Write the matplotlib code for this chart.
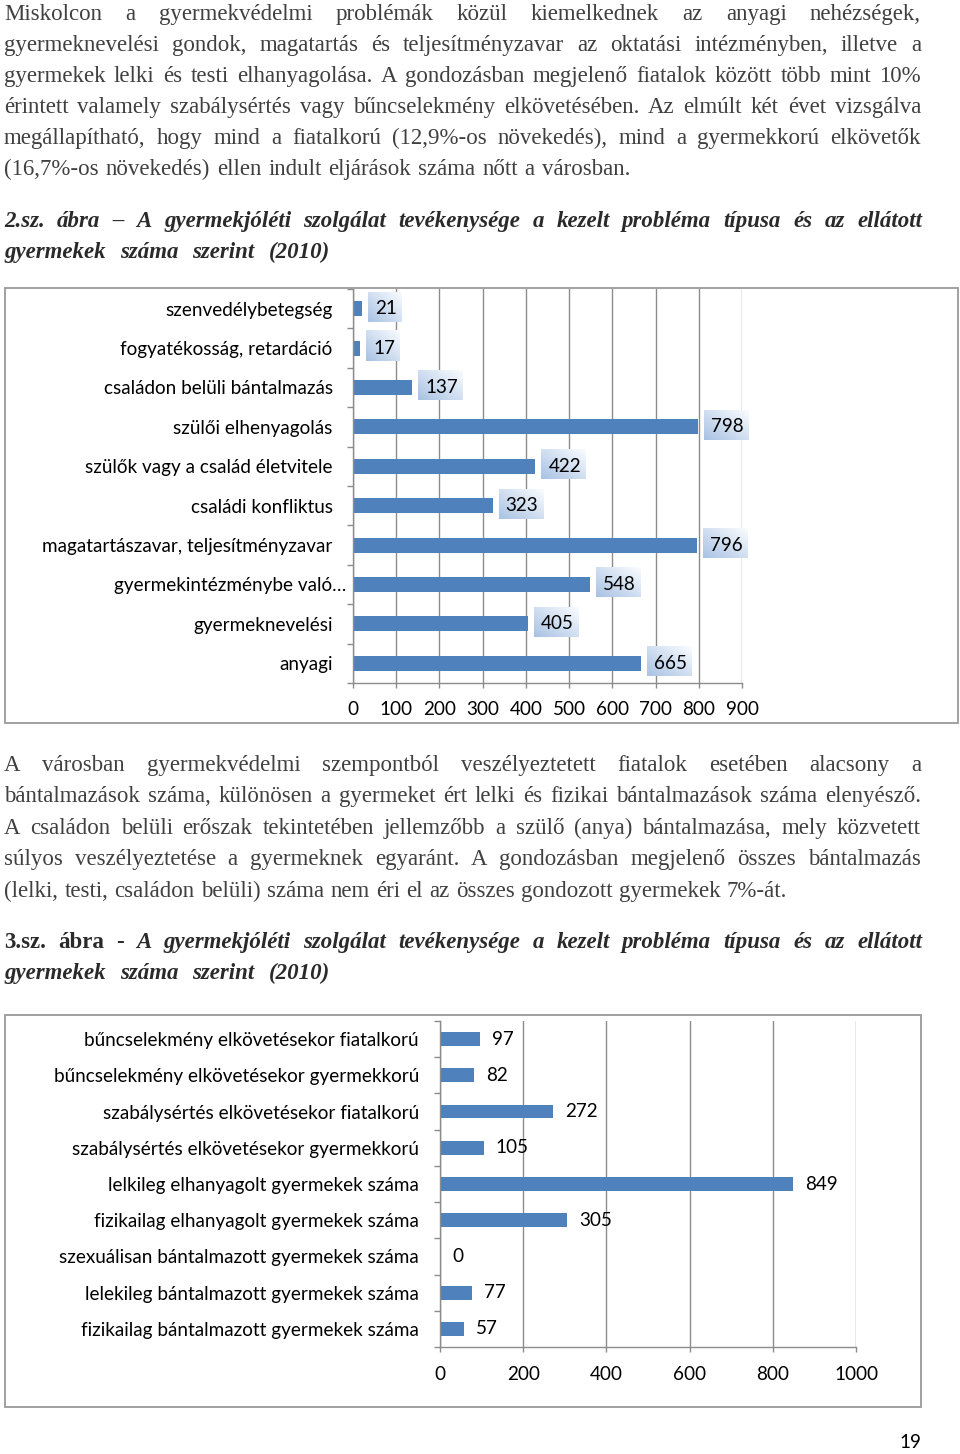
import matplotlib
matplotlib.use('Agg')
import matplotlib.pyplot as plt
import numpy as np
from matplotlib.patches import Rectangle
from matplotlib.transforms import ScaledTranslation

# ---------------- data ----------------
cats1 = ["szenvedélybetegség", "fogyatékosság, retardáció", "családon belüli bántalmazás",
         "szülői elhenyagolás", "szülők vagy a család életvitele", "családi konfliktus",
         "magatartászavar, teljesítményzavar", "gyermekintézménybe való…",
         "gyermeknevelési", "anyagi"]
vals1 = [21, 17, 137, 798, 422, 323, 796, 548, 405, 665]
ticks1 = [0, 100, 200, 300, 400, 500, 600, 700, 800, 900]

cats2 = ["bűncselekmény elkövetésekor fiatalkorú", "bűncselekmény elkövetésekor gyermekkorú",
         "szabálysértés elkövetésekor fiatalkorú", "szabálysértés elkövetésekor gyermekkorú",
         "lelkileg elhanyagolt gyermekek száma", "fizikailag elhanyagolt gyermekek száma",
         "szexuálisan bántalmazott gyermekek száma", "lelekileg bántalmazott gyermekek száma",
         "fizikailag bántalmazott gyermekek száma"]
vals2 = [97, 82, 272, 105, 849, 305, 0, 77, 57]
ticks2 = [0, 200, 400, 600, 800, 1000]

para1 = ["Miskolcon a gyermekvédelmi problémák közül kiemelkednek az anyagi nehézségek,",
         "gyermeknevelési gondok, magatartás és teljesítményzavar az oktatási intézményben, illetve a",
         "gyermekek lelki és testi elhanyagolása. A gondozásban megjelenő fiatalok között több mint 10%",
         "érintett valamely szabálysértés vagy bűncselekmény elkövetésében. Az elmúlt két évet vizsgálva",
         "megállapítható, hogy mind a fiatalkorú (12,9%-os növekedés), mind a gyermekkorú elkövetők",
         "(16,7%-os növekedés) ellen indult eljárások száma nőtt a városban."]
title1 = ["2.sz. ábra – A gyermekjóléti szolgálat tevékenysége a kezelt probléma típusa és az ellátott",
          "gyermekek száma szerint (2010)"]
para2 = ["A városban gyermekvédelmi szempontból veszélyeztetett fiatalok esetében alacsony a",
         "bántalmazások száma, különösen a gyermeket ért lelki és fizikai bántalmazások száma elenyésző.",
         "A családon belüli erőszak tekintetében jellemzőbb a szülő (anya) bántalmazása, mely közvetett",
         "súlyos veszélyeztetése a gyermeknek egyaránt. A gondozásban megjelenő összes bántalmazás",
         "(lelki, testi, családon belüli) száma nem éri el az összes gondozott gyermekek 7%-át."]
title2_prefix = "3.sz. ábra -"
title2 = ["A gyermekjóléti szolgálat tevékenysége a kezelt probléma típusa és az ellátott",
          "gyermekek száma szerint (2010)"]
page_number = "19"

# ---------------- layout ----------------
W, H, DPI = 960, 1454, 100
PX2PT = 72.0 / DPI
plt.rcParams['font.family'] = ['Lato', 'DejaVu Sans']

fig = plt.figure(figsize=(W / DPI, H / DPI), dpi=DPI)
fig.patch.set_facecolor('white')
renderer = fig.canvas.get_renderer()

BAR = '#4F81BD'
GRID = '#8c8c8c'
BODY = '#404040'
TITLE = '#2a2a2a'
SERIF = ['Liberation Serif', 'DejaVu Serif']
CFS = 13.6


def justify(words, baseline_y, x0, x1, size, color):
    texts = []
    for w, wt, st in words:
        t = fig.text(0, 1 - baseline_y / H, w, fontsize=size, family=SERIF,
                     weight=wt, style=st, color=color, va='baseline', ha='left')
        texts.append(t)
    widths = [t.get_window_extent(renderer).width for t in texts]
    if len(texts) > 1:
        gap = (x1 - x0 - sum(widths)) / (len(texts) - 1)
        gap = max(gap, 3)
    else:
        gap = 0
    x = x0
    for t, wd in zip(texts, widths):
        t.set_x(x / W)
        x += wd + gap


def plain(line, wt='normal', st='normal'):
    return [(w, wt, st) for w in line.split()]


FS = 16.5
# paragraph 1
base1 = [20, 51, 82, 113, 144, 175]
ends1 = [921, 921, 921, 921, 921, 630]
for line, yb, xe in zip(para1, base1, ends1):
    justify(plain(line), yb, 4, xe, FS, BODY)
# title 1
justify(plain(title1[0], 'bold', 'italic'), 227, 4, 922, FS, TITLE)
justify(plain(title1[1], 'bold', 'italic'), 258, 4, 330, FS, TITLE)
# paragraph 2
base2 = [771, 802, 834, 865, 897]
ends2 = [921, 921, 921, 921, 787]
for line, yb, xe in zip(para2, base2, ends2):
    justify(plain(line), yb, 4, xe, FS, BODY)
# title 2
justify(plain(title2_prefix, 'bold', 'normal') + plain(title2[0], 'bold', 'italic'),
        948, 4, 922, FS, TITLE)
justify(plain(title2[1], 'bold', 'italic'), 979, 4, 330, FS, TITLE)

# page number
fig.text(910 / W, 1 - 1443 / H, page_number, fontsize=CFS, ha='center', va='center', color='black')

# chart borders
fig.add_artist(Rectangle((5 / W, 1 - 723 / H), (958 - 5) / W, (723 - 288) / H,
                         transform=fig.transFigure, fill=False, ec='#9a9a9a', lw=1.3))
fig.add_artist(Rectangle((5 / W, 1 - 1407 / H), (921 - 5) / W, (1407 - 1015) / H,
                         transform=fig.transFigure, fill=False, ec='#9a9a9a', lw=1.3))


def setup_axes(ax, cats, vals, ticks, xmax, labelpad_px, xpad_px):
    n = len(cats)
    y = np.arange(n)[::-1]
    ax.barh(y, vals, height=0.38, color=BAR, zorder=2)
    ax.set_xlim(0, xmax)
    ax.set_ylim(-0.5, n - 0.5)
    ax.set_xticks(ticks)
    ax.set_yticks(y)
    ax.set_yticklabels(cats)
    ax.set_yticks(np.arange(n + 1) - 0.5, minor=True)
    ax.set_axisbelow(True)
    ax.grid(axis='x', color=GRID, lw=1.0)
    ax.grid(axis='y', visible=False)
    for s in ['top', 'right']:
        ax.spines[s].set_visible(False)
    for s in ['left', 'bottom']:
        ax.spines[s].set_color(GRID)
        ax.spines[s].set_linewidth(1.0)
    ax.tick_params(axis='y', which='major', length=0, pad=labelpad_px * PX2PT, labelsize=CFS)
    ax.tick_params(axis='y', which='minor', length=6 * PX2PT, width=1.0, color=GRID, direction='out')
    ax.tick_params(axis='x', which='major', length=5 * PX2PT, width=1.0, color=GRID,
                   direction='out', pad=xpad_px * PX2PT, labelsize=CFS)
    ax.patch.set_alpha(0)
    return y


# ---------------- chart 1 ----------------
ax1 = fig.add_axes([352.7 / W, 1 - 683 / H, (742.3 - 352.7) / W, (683 - 289) / H])
y1 = setup_axes(ax1, cats1, vals1, ticks1, 900, 20, 13)
# shift the truncated label to the right as in the reference
for lab in ax1.get_yticklabels():
    if lab.get_text().endswith('…'):
        lab.set_transform(lab.get_transform() + ScaledTranslation(14 / DPI, 0, fig.dpi_scale_trans))

# data labels with gradient boxes
gx, gy = np.meshgrid(np.linspace(0, 1, 40), np.linspace(1, 0, 40))
t = (gx + gy) / 2.0
c0 = np.array([0.66, 0.76, 0.89])
c1 = np.array([0.98, 0.99, 1.0])
grad = c0[None, None, :] * (1 - t[..., None]) + c1[None, None, :] * t[..., None]

inv = ax1.transData.inverted()
label_texts = []
for yy, v in zip(y1, vals1):
    txt = ax1.annotate(str(v), (v, yy), xytext=(13 * PX2PT, 0), textcoords='offset points',
                       ha='left', va='center', fontsize=CFS, color='black', zorder=4,
                       annotation_clip=False)
    label_texts.append(txt)
for txt in label_texts:
    bb = txt.get_window_extent(renderer)
    cy = (bb.y0 + bb.y1) / 2.0 + 2
    xa, ya = inv.transform((bb.x0 - 7, cy - 15))
    xb, yb = inv.transform((bb.x1 + 5, cy + 15))
    ax1.imshow(grad, extent=[xa, xb, ya, yb], aspect='auto', zorder=3, clip_on=False,
               interpolation='bilinear')
ax1.set_xlim(0, 900)
ax1.set_ylim(-0.5, len(cats1) - 0.5)

# ---------------- chart 2 ----------------
ax2 = fig.add_axes([440 / W, 1 - 1347 / H, (856 - 440) / W, (1347 - 1021) / H])
y2 = setup_axes(ax2, cats2, vals2, ticks2, 1000, 21, 14)
for yy, v in zip(y2, vals2):
    ax2.annotate(str(v), (v, yy), xytext=(12 * PX2PT, 0), textcoords='offset points',
                 ha='left', va='center', fontsize=CFS, color='black', zorder=4,
                 annotation_clip=False)

fig.savefig('out.png', dpi=DPI)
